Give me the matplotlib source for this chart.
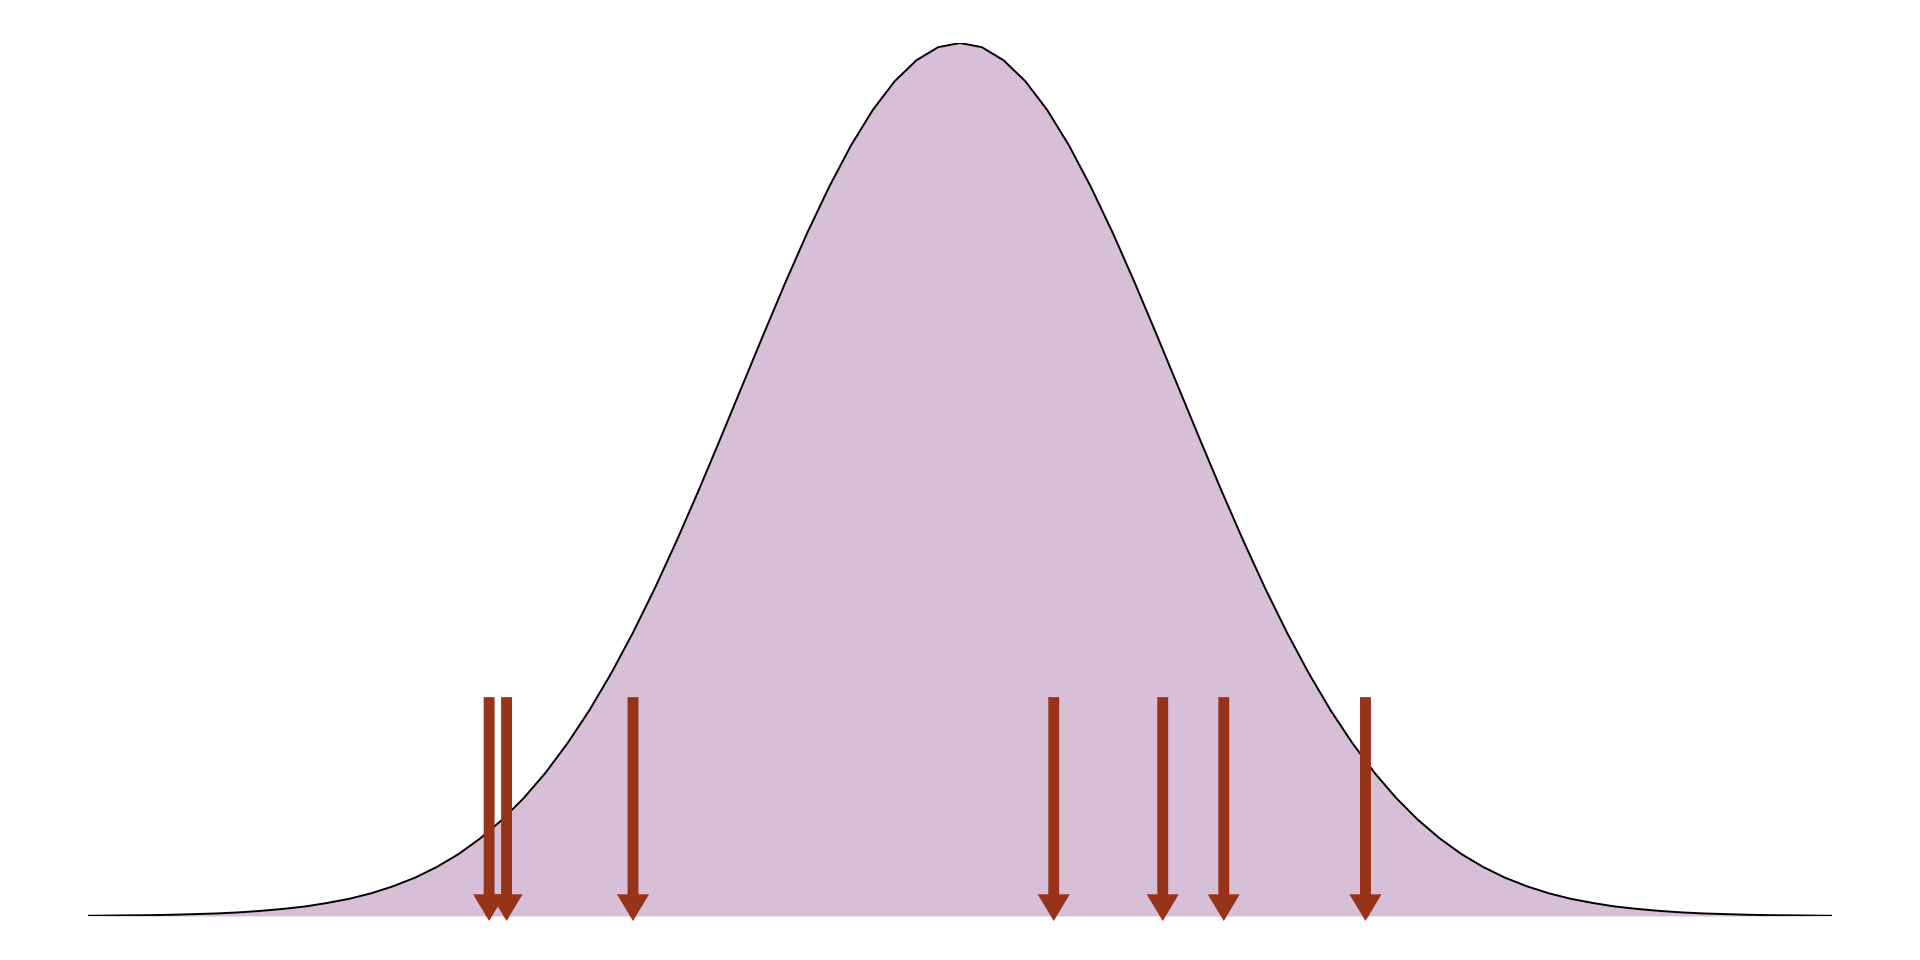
import numpy as np
import matplotlib.pyplot as plt

# density curve (x in sd units, step 0.1)
curve_x = [-4.0, -3.9, -3.8, -3.7, -3.6, -3.5, -3.4, -3.3, -3.2, -3.1,
           -3.0, -2.9, -2.8, -2.7, -2.6, -2.5, -2.4, -2.3, -2.2, -2.1,
           -2.0, -1.9, -1.8, -1.7, -1.6, -1.5, -1.4, -1.3, -1.2, -1.1,
           -1.0, -0.9, -0.8, -0.7, -0.6, -0.5, -0.4, -0.3, -0.2, -0.1,
           0.0, 0.1, 0.2, 0.3, 0.4, 0.5, 0.6, 0.7, 0.8, 0.9,
           1.0, 1.1, 1.2, 1.3, 1.4, 1.5, 1.6, 1.7, 1.8, 1.9,
           2.0, 2.1, 2.2, 2.3, 2.4, 2.5, 2.6, 2.7, 2.8, 2.9,
           3.0, 3.1, 3.2, 3.3, 3.4, 3.5, 3.6, 3.7, 3.8, 3.9, 4.0]
curve_y = [0.0001, 0.0002, 0.0003, 0.0004, 0.0006, 0.0009, 0.0012, 0.0017, 0.0024, 0.0033,
           0.0044, 0.0060, 0.0079, 0.0104, 0.0136, 0.0175, 0.0224, 0.0283, 0.0355, 0.0440,
           0.0540, 0.0656, 0.0790, 0.0940, 0.1109, 0.1295, 0.1497, 0.1714, 0.1942, 0.2179,
           0.2420, 0.2661, 0.2897, 0.3123, 0.3332, 0.3521, 0.3683, 0.3814, 0.3910, 0.3970,
           0.3989, 0.3970, 0.3910, 0.3814, 0.3683, 0.3521, 0.3332, 0.3123, 0.2897, 0.2661,
           0.2420, 0.2179, 0.1942, 0.1714, 0.1497, 0.1295, 0.1109, 0.0940, 0.0790, 0.0656,
           0.0540, 0.0440, 0.0355, 0.0283, 0.0224, 0.0175, 0.0136, 0.0104, 0.0079, 0.0060,
           0.0044, 0.0033, 0.0024, 0.0017, 0.0012, 0.0009, 0.0006, 0.0004, 0.0003, 0.0002, 0.0001]

# observed sample points (arrows)
samples = [-2.16, -2.08, -1.50, 0.43, 0.93, 1.21, 1.86]
arrow_top = 0.100
arrow_tip = -0.0023

fig = plt.figure(figsize=(19.2, 9.6), dpi=100)
ax = fig.add_axes([88 / 1920, 44 / 960, 1744 / 1920, 873 / 960])

ax.fill_between(curve_x, curve_y, 0, color="#D8BFD8", linewidth=0)
ax.plot(curve_x, curve_y, color="black", linewidth=1.4)

# vertical arrows: widths are in x units, head length in y units
for s in samples:
    ax.arrow(s, arrow_top, 0, arrow_tip - arrow_top,
             width=0.05, head_width=0.147, head_length=0.0122,
             length_includes_head=True, color="#973319", linewidth=0,
             clip_on=False, zorder=3)

ax.set_xlim(-4, 4)
ax.set_ylim(0, 0.3989)
ax.axis("off")

plt.savefig("out.png", dpi=100)
